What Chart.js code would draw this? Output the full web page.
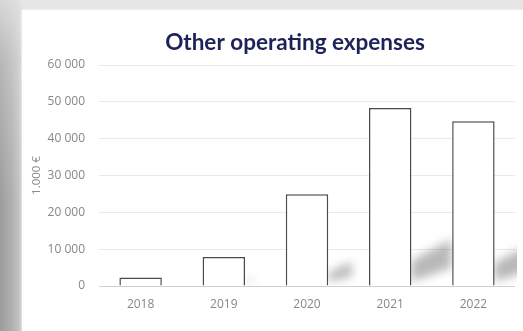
<!DOCTYPE html>
<html>
<head>
<meta charset="utf-8">
<script src="https://cdn.jsdelivr.net/npm/chart.js@4/dist/chart.umd.min.js"></script>
<style>
  html, body { margin: 0; padding: 0; }
  body {
    width: 523px; height: 331px; overflow: hidden; position: relative;
    background:
      linear-gradient(180deg, rgba(235,235,235,0.75) 0px, rgba(235,235,235,0.35) 60px, rgba(235,235,235,0) 200px),
      linear-gradient(90deg, #9c9c9c 0px, #b0b0b0 12px, #c6c6c6 20px, #d8d8d8 23px);
  }
  #card {
    position: absolute; left: 22px; top: 10px; width: 501px; height: 321px;
    background: #ffffff;
    box-shadow: 0 0 3px rgba(255,255,255,0.8);
  }
  canvas { display: block; }
</style>
</head>
<body>
<div id="card"><canvas id="chart" width="501" height="321"></canvas></div>
<script>
// Other operating expenses, in thousands of euros
const years = ['2018', '2019', '2020', '2021', '2022'];
const expenses = [2300, 7900, 24900, 48300, 44700];
const yMax = 60000;
const yStep = 10000;
const chartTitle = 'Other operating expenses';
const yAxisTitle = '1.000 €';

const formatThousands = v => String(v).replace(/\B(?=(\d{3})+(?!\d))/g, ' ');

// Chart heading, placed above the plot
const headingPlugin = {
  id: 'heading',
  afterDraw(chart) {
    const ctx = chart.ctx;
    ctx.save();
    ctx.font = 'bold 22.5px Lato';
    ctx.fillStyle = '#1d2356';
    ctx.textAlign = 'center';
    ctx.textBaseline = 'middle';
    ctx.fillText(chartTitle, 273, 33);
    ctx.restore();
  }
};

// Soft cast shadows falling to the right of each bar's foot
const barShadowPlugin = {
  id: 'barShadow',
  beforeDatasetsDraw(chart) {
    const ctx = chart.ctx;
    const area = chart.chartArea;
    const meta = chart.getDatasetMeta(0);
    ctx.save();
    ctx.beginPath();
    ctx.rect(area.left, area.top, area.right - area.left + 2, area.bottom - area.top);
    ctx.clip();
    ctx.filter = 'blur(5px)';
    ctx.fillStyle = 'rgba(0,0,0,0.28)';
    meta.data.forEach(bar => {
      const h = bar.base - bar.y;
      if (h < 20) return;
      const xr = bar.x + bar.width / 2;
      const w = Math.min(0.26 * h, 40);
      ctx.beginPath();
      ctx.moveTo(xr, bar.base - 4);
      ctx.lineTo(xr, bar.base - 0.14 * h);
      ctx.lineTo(xr + w, bar.base - 0.26 * h);
      ctx.lineTo(xr + w, bar.base - 0.1 * h);
      ctx.closePath();
      ctx.fill();
    });
    ctx.restore();
  }
};

new Chart(document.getElementById('chart'), {
  type: 'bar',
  data: {
    labels: years,
    datasets: [{
      data: expenses,
      backgroundColor: '#ffffff',
      borderColor: '#4a4a4a',
      borderWidth: 1.5,
      categoryPercentage: 1,
      barPercentage: 0.51
    }]
  },
  options: {
    responsive: false,
    animation: false,
    devicePixelRatio: 1,
    layout: { padding: { top: 55, right: 8, bottom: 0, left: 0 } },
    plugins: {
      legend: { display: false },
      title: { display: false },
      tooltip: { enabled: false }
    },
    scales: {
      x: {
        grid: { display: false, drawTicks: false },
        border: { display: false },
        ticks: {
          color: '#878787',
          font: { family: 'Open Sans', size: 12 },
          padding: 11
        },
        afterFit(scale) { scale.height = 45; }
      },
      y: {
        min: 0,
        max: yMax,
        grid: {
          drawTicks: false,
          color: ctx => (ctx.tick && ctx.tick.value === 0) ? '#cfcfcf' : '#eaeaea',
          lineWidth: 1
        },
        border: { display: false },
        ticks: {
          stepSize: yStep,
          color: '#878787',
          font: { family: 'Open Sans', size: 12 },
          padding: 14,
          callback: v => formatThousands(v)
        },
        title: {
          display: true,
          text: yAxisTitle,
          color: '#8a8a8a',
          font: { family: 'Open Sans', size: 11.5 },
          padding: { top: 8, bottom: 0 }
        },
        afterFit(scale) { scale.width = 77; }
      }
    }
  },
  plugins: [barShadowPlugin, headingPlugin]
});
</script>
</body>
</html>
